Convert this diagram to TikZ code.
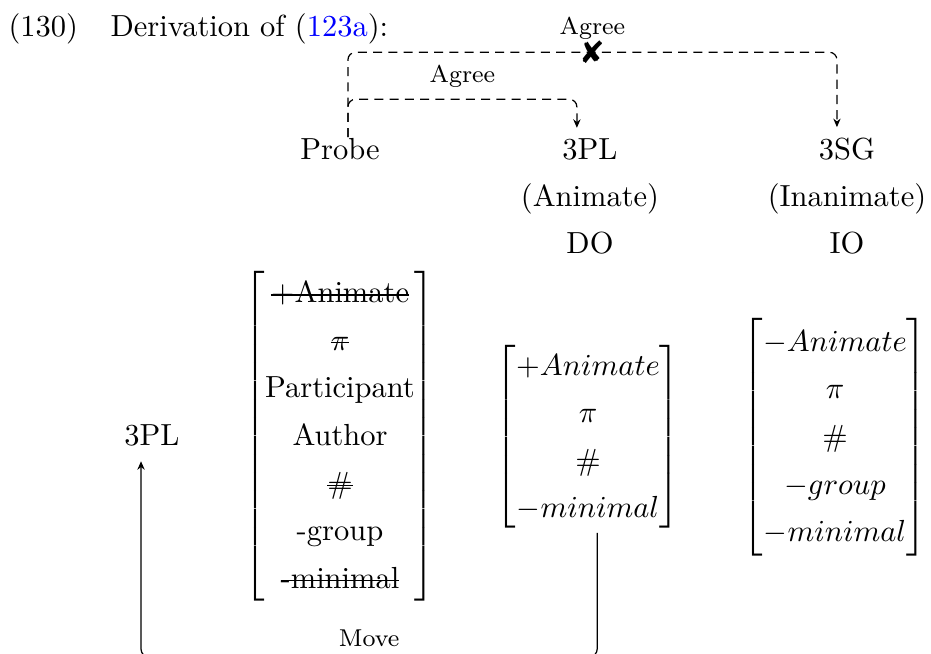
\documentclass[tikz,border=0pt]{standalone}
\usepackage{amsmath}
\usepackage{fontspec}
\newfontfamily\dingfont{DejaVu Sans}
\usetikzlibrary{arrows.meta,positioning,calc}
\newlength\strikewd
\newcommand{\strikeout}[1]{\settowidth{\strikewd}{#1}\rlap{\rule[0.55ex]{\strikewd}{0.4pt}}#1}
\renewcommand{\arraystretch}{1.3}
\tikzset{
  wordnode/.style={inner sep=0pt,anchor=base,font=\normalsize},
  tagnode/.style={inner sep=2pt,font=\footnotesize},
  crossnode/.style={inner sep=0pt,font=\dingfont\fontsize{10}{10}\selectfont},
  featmat/.style={inner sep=0pt},
  agreeline/.style={-{Stealth[length=2.8pt,width=2.4pt]},dash pattern=on 3pt off 2pt,rounded corners=2.5pt},
  moveline/.style={-{Stealth[length=2.8pt,width=2.4pt]},rounded corners=2.5pt}
}

\begin{document}
\begin{tikzpicture}[x=0.3279pt,y=-0.3279pt]
  \useasboundingbox (0,0) rectangle (931,653);
  % heading
  \node[wordnode,anchor=base west] (exno) at (8,36) {(130)};
  \node[wordnode,anchor=base west] (head) at (110,36) {Derivation of (\textcolor{blue}{123a}):};
  % probe and the two goals
  \node[wordnode] (probe) at (340,159) {Probe};
  \node[wordnode] (goaldo) at (590,159) {3PL};
  \node[wordnode] (animdo) at (590,206) {(Animate)};
  \node[wordnode] (roledo) at (590,253) {DO};
  \node[wordnode] (goalio) at (847,159) {3SG};
  \node[wordnode] (animio) at (847,206) {(Inanimate)};
  \node[wordnode] (roleio) at (847,253) {IO};
  \node[wordnode] (moved) at (152,445) {3PL};
  % feature bundles
  \node[featmat] (probemat) at (340,436) {$\begin{bmatrix}
      \text{\strikeout{+Animate}}\\
      \text{\strikeout{$\pi$}}\\
      \text{Participant}\\
      \text{Author}\\
      \text{\strikeout{\#}}\\
      \text{-group}\\
      \text{\strikeout{-minimal}}
    \end{bmatrix}$};
  \node[featmat] (domat) at (588,437) {$\begin{bmatrix}
      +Animate\\ \pi\\ \#\\ -minimal
    \end{bmatrix}$};
  \node[featmat] (iomat) at (835,437) {$\begin{bmatrix}
      -Animate\\ \pi\\ \#\\ -group\\ -minimal
    \end{bmatrix}$};
  % agree relations
  \draw[agreeline] ([xshift=2.6pt]probe.north) -- ++(0,-38)
    -| node[tagnode,above=1.7pt,pos=0.25] {Agree} ([xshift=-4.3pt,yshift=3.2pt]goaldo.north);
  \draw[agreeline] ([xshift=2.6pt]probe.north) -- ++(0,-85)
    -| node[crossnode,pos=0.25] (block) {✘}
       node[tagnode,above=2pt,pos=0.25] {Agree} ([xshift=-3.3pt,yshift=3.2pt]goalio.north);
  % movement
  \draw[moveline] ([xshift=3pt]domat.south) -- ++(0,124)
    -| node[tagnode,above=1pt,pos=0.25] {Move} ([xshift=-3.6pt,yshift=-4.9pt]moved.south);
\end{tikzpicture}
\end{document}
